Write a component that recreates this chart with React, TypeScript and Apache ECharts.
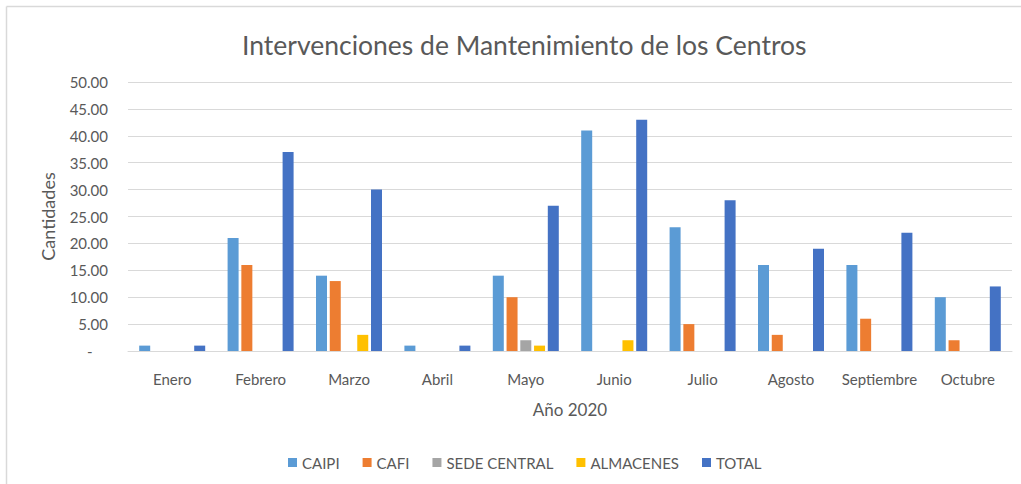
import React, { useEffect, useRef } from "react";
import * as echarts from "echarts";

const categories = ["Enero", "Febrero", "Marzo", "Abril", "Mayo", "Junio", "Julio", "Agosto", "Septiembre", "Octubre"];
const caipi = [1, 21, 14, 1, 14, 41, 23, 16, 16, 10];
const cafi = [null, 16, 13, null, 10, null, 5, 3, 6, 2];
const sedeCentral = [null, null, null, null, 2, null, null, null, null, null];
const almacenes = [null, null, 3, null, 1, 2, null, null, null, null];
const total = [1, 37, 30, 1, 27, 43, 28, 19, 22, 12];

const seriesNames = ["CAIPI", "CAFI", "SEDE CENTRAL", "ALMACENES", "TOTAL"];
const seriesColors = ["#5B9BD5", "#ED7D31", "#A5A5A5", "#FFC000", "#4472C4"];

const FONT = "Lato, 'Open Sans', sans-serif";

export default function App() {
  const ref = useRef<HTMLDivElement>(null);
  useEffect(() => {
    if (!ref.current) return;
    const chart = echarts.init(ref.current, null, { renderer: "svg" });
    const data = [caipi, cafi, sedeCentral, almacenes, total];
    chart.setOption({
      animation: false,
      backgroundColor: "#ffffff",
      textStyle: { fontFamily: FONT },
      title: {
        text: "Intervenciones de Mantenimiento de los Centros",
        left: 237,
        top: 26,
        textStyle: { fontFamily: FONT, fontSize: 26.5, fontWeight: "normal", color: "#595959" },
      },
      legend: {
        data: seriesNames,
        top: 450,
        left: 283,
        itemWidth: 9,
        itemHeight: 9,
        itemGap: 23,
        icon: "rect",
        textStyle: { fontFamily: FONT, fontSize: 15, color: "#595959" },
      },
      grid: { left: 128, right: 9, top: 82, bottom: 133, containLabel: false },
      xAxis: {
        type: "category",
        data: categories,
        name: "Año 2020",
        nameLocation: "middle",
        nameGap: 50,
        nameTextStyle: { fontFamily: FONT, fontSize: 17, color: "#595959" },
        axisLine: { lineStyle: { color: "#D9D9D9" } },
        axisTick: { show: false },
        axisLabel: { fontFamily: FONT, fontSize: 15, color: "#595959", margin: 20, interval: 0 },
      },
      yAxis: {
        type: "value",
        min: 0,
        max: 50,
        interval: 5,
        name: "Cantidades",
        nameLocation: "middle",
        nameGap: 71,
        nameRotate: 90,
        nameTextStyle: { fontFamily: FONT, fontSize: 18, color: "#595959" },
        axisLine: { show: false },
        axisTick: { show: false },
        splitLine: { lineStyle: { color: "#D9D9D9", width: 1 } },
        axisLabel: {
          fontFamily: FONT,
          fontSize: 15,
          color: "#595959",
          margin: 20,
          formatter: (v: number) => (v === 0 ? "-    " : v.toFixed(2)),
        },
      },
      series: seriesNames.map((name, i) => ({
        name,
        type: "bar",
        data: data[i],
        barWidth: 11,
        barGap: "25%",
        itemStyle: { color: seriesColors[i] },
      })),
      graphic: [
        { type: "line", shape: { x1: 6.5, y1: 6.5, x2: 1021, y2: 6.5 }, style: { stroke: "#D9D9D9", lineWidth: 1.5 } },
        { type: "line", shape: { x1: 6.5, y1: 6.5, x2: 6.5, y2: 484 }, style: { stroke: "#D9D9D9", lineWidth: 1.5 } },
      ],
    });
    return () => chart.dispose();
  }, []);
  return <div ref={ref} style={{ position: "fixed", left: 0, top: 0, width: 1021, height: 484 }} />;
}
